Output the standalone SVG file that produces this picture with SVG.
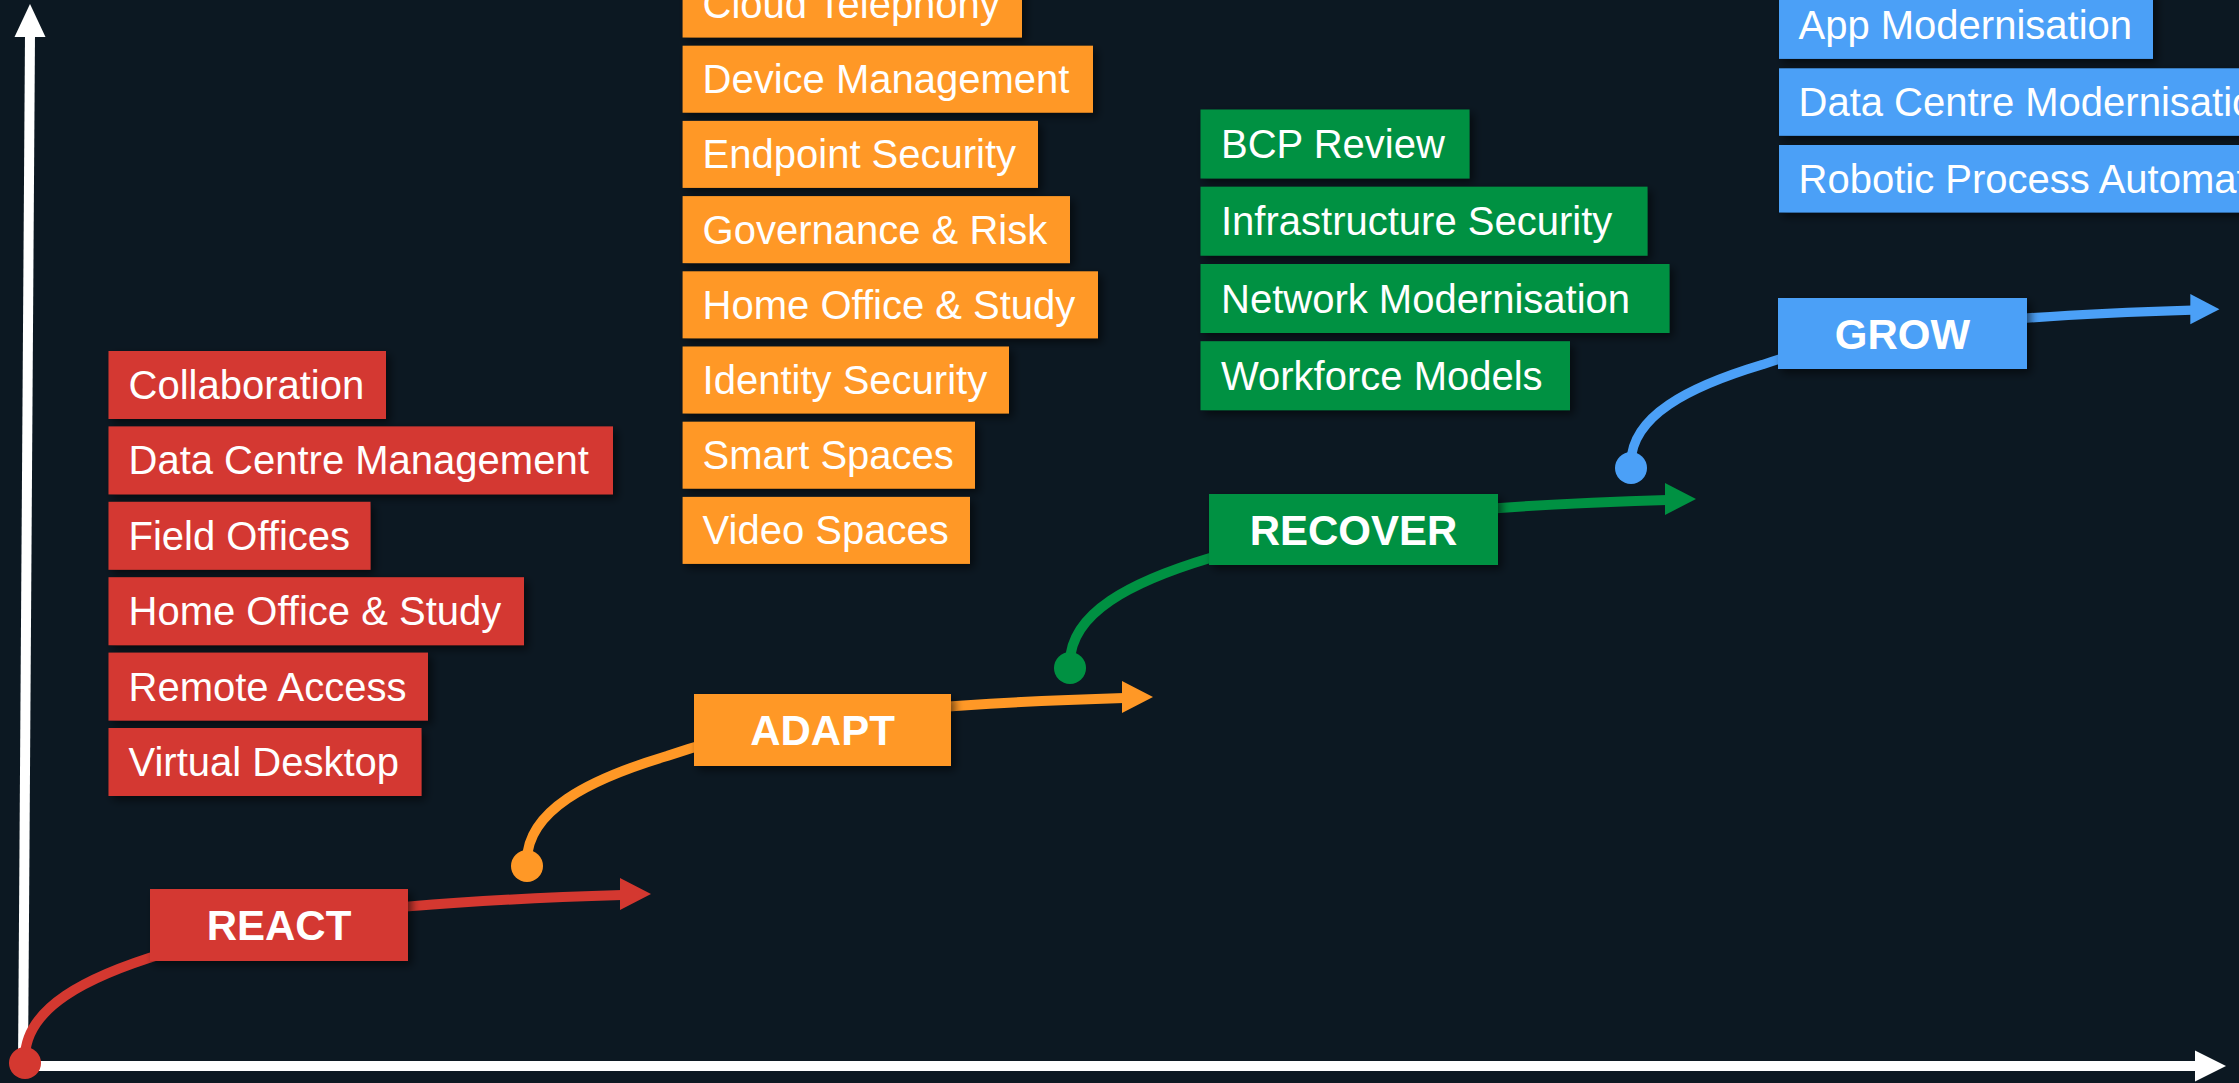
<svg xmlns="http://www.w3.org/2000/svg" width="2239" height="1083" viewBox="0 0 2239 1083">
  <defs>
    <filter id="shadow" x="-10%" y="-20%" width="130%" height="160%">
      <feDropShadow dx="4" dy="4" stdDeviation="4" flood-color="#000" flood-opacity="0.55"/>
    </filter>
    <!-- one growth step: rising curve that flattens into an arrow; origin = start dot -->
    <path id="stepCurve" d="M0,-6 C1,-55 60,-86 140,-110 C230,-141 330,-160 597,-168"/>
    <polygon id="stepHead" points="595,-185 626,-169 595,-153"/>
  </defs>
  <style>
    .bg { fill: #0C1822; }
    .axis { stroke: #FFFFFF; stroke-width: 10; fill: none; }
    .axisHead { fill: #FFFFFF; }
    .item { font-family: "Liberation Sans", Arial, sans-serif; font-size: 40px; fill: #FFFFFF; }
    .stage { font-family: "Liberation Sans", Arial, sans-serif; font-size: 42px; font-weight: bold; fill: #FFFFFF; text-anchor: middle; }
    .box { filter: url(#shadow); }
    .red { fill: #D43830; }
    .orange { fill: #FF9826; }
    .green { fill: #009142; }
    .blue { fill: #4BA0F7; }
    .curve { fill: none; stroke-width: 10; }
    .c-red { stroke: #D43830; }
    .c-orange { stroke: #FF9826; }
    .c-green { stroke: #009142; }
    .c-blue { stroke: #4BA0F7; }
  </style>

  <rect class="bg" x="0" y="0" width="2239" height="1083"/>

  <!-- axes -->
  <g id="axes">
    <line class="axis" x1="23" y1="1066" x2="30" y2="34"/>
    <polygon class="axisHead" points="30,4 45.5,37 14.5,37"/>
    <line class="axis" x1="22" y1="1066" x2="2197" y2="1066"/>
    <polygon class="axisHead" points="2195,1050.5 2226,1066 2195,1081.5"/>
  </g>

  <!-- connectors: growth curves between stages -->
  <g id="connectors">
    <g transform="translate(25,1063)">
      <use href="#stepCurve" class="curve c-red"/>
      <use href="#stepHead" class="red"/>
    </g>
    <circle class="red" cx="25" cy="1063" r="16"/>

    <g transform="translate(527,866)">
      <use href="#stepCurve" class="curve c-orange"/>
      <use href="#stepHead" class="orange"/>
    </g>
    <circle class="orange" cx="527" cy="866" r="16"/>

    <g transform="translate(1070,668)">
      <use href="#stepCurve" class="curve c-green"/>
      <use href="#stepHead" class="green"/>
    </g>
    <circle class="green" cx="1070" cy="668" r="16"/>

    <g transform="translate(1631,468) scale(0.94)">
      <use href="#stepCurve" class="curve c-blue"/>
      <use href="#stepHead" class="blue"/>
    </g>
    <circle class="blue" cx="1631" cy="468" r="16"/>
  </g>

  <!-- stage nodes -->
  <g id="stage-react">
    <rect class="box red" x="150" y="889" width="258" height="72"/>
    <text class="stage" x="279" y="940">REACT</text>
  </g>
  <g id="stage-adapt">
    <rect class="box orange" x="694" y="694" width="257" height="72"/>
    <text class="stage" x="822.5" y="745">ADAPT</text>
  </g>
  <g id="stage-recover">
    <rect class="box green" x="1209" y="494" width="289" height="71"/>
    <text class="stage" x="1353.5" y="544.5">RECOVER</text>
  </g>
  <g id="stage-grow">
    <rect class="box blue" x="1778" y="298" width="249" height="71"/>
    <text class="stage" x="1902.5" y="348.5">GROW</text>
  </g>

  <!-- REACT items -->
  <g id="react-collaboration">
    <rect class="box red" x="108.5" y="351" width="277.5" height="68"/>
    <text class="item" x="128.5" y="399">Collaboration</text>
  </g>
  <g id="react-data-centre-management">
    <rect class="box red" x="108.5" y="426.4" width="504.5" height="68"/>
    <text class="item" x="128.5" y="474.4">Data Centre Management</text>
  </g>
  <g id="react-field-offices">
    <rect class="box red" x="108.5" y="501.8" width="262" height="68"/>
    <text class="item" x="128.5" y="549.8">Field Offices</text>
  </g>
  <g id="react-home-office">
    <rect class="box red" x="108.5" y="577.2" width="415.5" height="68"/>
    <text class="item" x="128.5" y="625.2">Home Office &amp; Study</text>
  </g>
  <g id="react-remote-access">
    <rect class="box red" x="108.5" y="652.6" width="319.5" height="68"/>
    <text class="item" x="128.5" y="700.6">Remote Access</text>
  </g>
  <g id="react-virtual-desktop">
    <rect class="box red" x="108.5" y="728" width="313" height="68"/>
    <text class="item" x="128.5" y="776">Virtual Desktop</text>
  </g>

  <!-- ADAPT items -->
  <g id="adapt-cloud-telephony">
    <rect class="box orange" x="682.6" y="-29.5" width="339.4" height="67"/>
    <text class="item" x="702.6" y="18">Cloud Telephony</text>
  </g>
  <g id="adapt-device-management">
    <rect class="box orange" x="682.6" y="45.7" width="410.4" height="67"/>
    <text class="item" x="702.6" y="93.2">Device Management</text>
  </g>
  <g id="adapt-endpoint-security">
    <rect class="box orange" x="682.6" y="120.9" width="355.4" height="67"/>
    <text class="item" x="702.6" y="168.4">Endpoint Security</text>
  </g>
  <g id="adapt-governance-risk">
    <rect class="box orange" x="682.6" y="196.1" width="387.4" height="67"/>
    <text class="item" x="702.6" y="243.6">Governance &amp; Risk</text>
  </g>
  <g id="adapt-home-office">
    <rect class="box orange" x="682.6" y="271.3" width="415.4" height="67"/>
    <text class="item" x="702.6" y="318.8">Home Office &amp; Study</text>
  </g>
  <g id="adapt-identity-security">
    <rect class="box orange" x="682.6" y="346.5" width="326.4" height="67"/>
    <text class="item" x="702.6" y="394">Identity Security</text>
  </g>
  <g id="adapt-smart-spaces">
    <rect class="box orange" x="682.6" y="421.7" width="292.4" height="67"/>
    <text class="item" x="702.6" y="469.2">Smart Spaces</text>
  </g>
  <g id="adapt-video-spaces">
    <rect class="box orange" x="682.6" y="496.9" width="287.4" height="67"/>
    <text class="item" x="702.6" y="544.4">Video Spaces</text>
  </g>

  <!-- RECOVER items -->
  <g id="recover-bcp-review">
    <rect class="box green" x="1200.5" y="109.5" width="269" height="69"/>
    <text class="item" x="1221" y="158">BCP Review</text>
  </g>
  <g id="recover-infrastructure-security">
    <rect class="box green" x="1200.5" y="186.7" width="447" height="69"/>
    <text class="item" x="1221" y="235.2">Infrastructure Security</text>
  </g>
  <g id="recover-network-modernisation">
    <rect class="box green" x="1200.5" y="264" width="469" height="69"/>
    <text class="item" x="1221" y="312.5">Network Modernisation</text>
  </g>
  <g id="recover-workforce-models">
    <rect class="box green" x="1200.5" y="341.2" width="369.5" height="69"/>
    <text class="item" x="1221" y="389.7">Workforce Models</text>
  </g>

  <!-- GROW items -->
  <g id="grow-app-modernisation">
    <rect class="box blue" x="1779" y="-8.6" width="374" height="67.5"/>
    <text class="item" x="1798.5" y="39">App Modernisation</text>
  </g>
  <g id="grow-data-centre-modernisation">
    <rect class="box blue" x="1779" y="68.3" width="520" height="67.5"/>
    <text class="item" x="1798.5" y="116">Data Centre Modernisation</text>
  </g>
  <g id="grow-robotic-process-automation">
    <rect class="box blue" x="1779" y="145" width="560" height="67.5"/>
    <text class="item" x="1798.5" y="192.7">Robotic Process Automation</text>
  </g>
</svg>
